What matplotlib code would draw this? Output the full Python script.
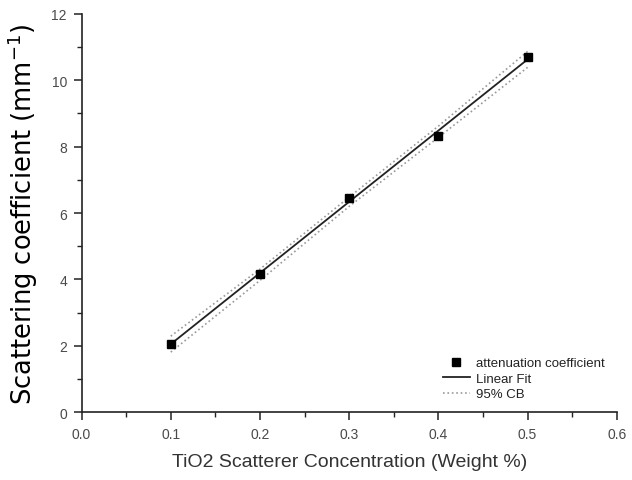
import numpy as np
import matplotlib
matplotlib.use("Agg")
from matplotlib import pyplot as plt
from matplotlib.ticker import MultipleLocator, FormatStrFormatter

plt.rcParams["font.family"] = ["Liberation Sans", "DejaVu Sans"]

# data
conc = [0.1, 0.2, 0.3, 0.4, 0.5]
atten = [2.05, 4.17, 6.45, 8.32, 10.71]
fit_x = [0.1, 0.5]
fit_y = [2.05, 10.63]
cb_upper = [2.29, 4.31, 6.48, 8.62, 10.87]
cb_lower = [1.81, 3.97, 6.20, 8.28, 10.39]

fig = plt.figure(figsize=(6.32, 4.81), dpi=100)
ax = fig.add_axes([0.129, 0.141, 0.847, 0.828])

ax.plot(conc, atten, "s", color="black", markersize=5.5, label="attenuation coefficient", zorder=3)
ax.plot(fit_x, fit_y, "-", color="#222222", linewidth=1.3, label="Linear Fit")
ax.plot(conc, cb_upper, ":", color="#999999", linewidth=1.2, label="95% CB")
ax.plot(conc, cb_lower, ":", color="#999999", linewidth=1.2)

ax.set_xlim(0, 0.6)
ax.set_ylim(0, 12)
ax.xaxis.set_major_locator(MultipleLocator(0.1))
ax.xaxis.set_minor_locator(MultipleLocator(0.05))
ax.xaxis.set_major_formatter(FormatStrFormatter("%.1f"))
ax.yaxis.set_major_locator(MultipleLocator(2))
ax.yaxis.set_minor_locator(MultipleLocator(1))

ax.spines["top"].set_visible(False)
ax.spines["right"].set_visible(False)
for s in ["left", "bottom"]:
    ax.spines[s].set_color("#222222")
    ax.spines[s].set_linewidth(1.2)

ax.tick_params(which="major", length=6, width=1.1, color="#222222",
               labelsize=10, labelcolor="#4a4a4a", pad=4.5)
ax.tick_params(which="minor", length=3.5, width=1.0, color="#222222")

ax.set_xlabel("TiO2 Scatterer Concentration (Weight %)",
              fontsize=14, color="#333333", labelpad=9)
ax.set_ylabel("Scattering coefficient (mm$^{\\mathregular{-1}}$)", family="DejaVu Sans",
              fontsize=18.5, color="black")
ax.yaxis.set_label_coords(-0.078, 0.5)

leg = ax.legend(loc="lower right", frameon=False, prop={"size": 9.5},
                handlelength=2.0, handletextpad=0.5, labelspacing=0.25,
                bbox_to_anchor=(1.0, 0.0))
for t in leg.get_texts():
    t.set_color("#222222")

fig.savefig("out.png", dpi=100)
